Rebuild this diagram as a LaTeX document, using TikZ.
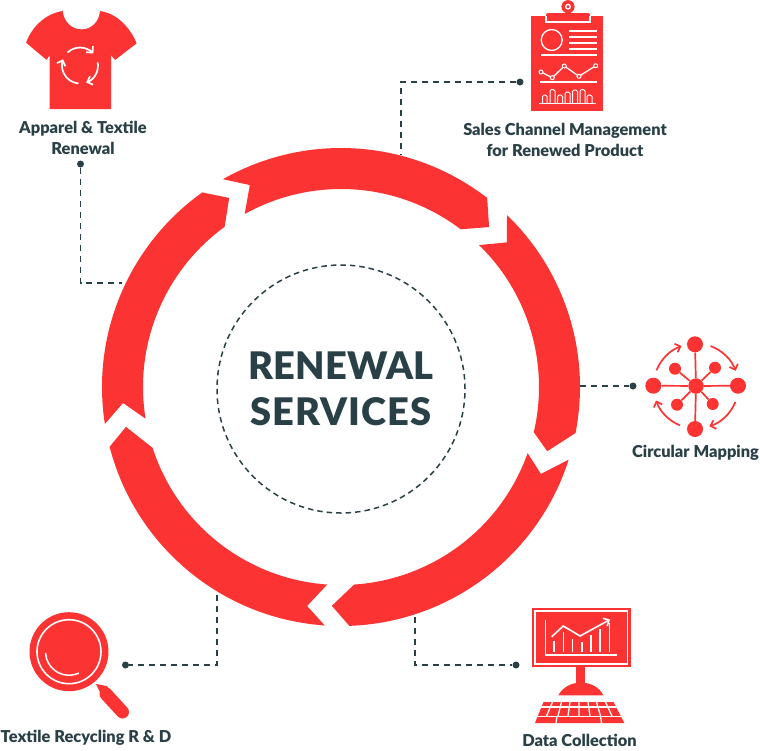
\documentclass[tikz,border=0pt]{standalone}
\usepackage{fontspec}
\setmainfont[BoldFont={Lato Black}]{Lato}
\newfontfamily\hubfont[LetterSpace=3, BoldFont={Lato Black}]{Lato}
\newfontfamily\hubtight[LetterSpace=0.5, BoldFont={Lato Black}]{Lato}
\usetikzlibrary{arrows.meta}
\definecolor{ringred}{HTML}{FB3333}
\definecolor{inkdark}{HTML}{2A4047}

\begin{document}
\begin{tikzpicture}[x=1pt, y=-1pt]
    \tikzset{label/.style = {inner sep=0, align=center, text=inkdark, font=\fontsize{16.4}{21}\selectfont\bfseries}}
    \tikzset{dot/.style = {shape=circle, fill=inkdark, inner sep=0, minimum size=7}}
    \tikzset{link/.style = {draw=inkdark, line width=1.8, dash pattern=on 6 off 5}}
    \tikzset{mapdot/.style = {shape=circle, fill=ringred, inner sep=0, minimum size=16}}
    \tikzset{mapdotsmall/.style = {shape=circle, fill=ringred, inner sep=0, minimum size=12}}
    \tikzset{cut/.style = {draw=white, line width=1.3}}
    \tikzset{mapedge/.style = {draw=ringred, line width=1.7}}
    \tikzset{barb/.style = {-{Straight Barb[length=4.5pt, width=9pt]}}}
    \useasboundingbox (0,0) rectangle (760,750);

    % ring of arrows
    \begin{scope}[shift={(341,387)}, y=1pt]
        \fill[ringred] (119.6:239) arc[start angle=119.6, end angle=52.3, radius=239] -- (47.2:218) -- (52.8:198) arc[start angle=52.8, end angle=119.1, radius=198] -- (114.3:221.6) -- cycle;
        \fill[ringred] (46:239) arc[start angle=46, end angle=-11.1, radius=239] -- (-17.3:216) -- (-13.2:198) arc[start angle=-13.2, end angle=45.8, radius=198] -- (41.1:220) -- cycle;
        \fill[ringred] (-17.7:239) arc[start angle=-17.7, end angle=-88, radius=239] -- (-92.4:219) -- (-86.2:198) arc[start angle=-86.2, end angle=-19.5, radius=198] -- (-23.5:218) -- cycle;
        \fill[ringred] (-93.9:239) arc[start angle=-93.9, end angle=-165.5, radius=239] -- (-169.5:218.7) -- (-162.1:198) arc[start angle=-162.1, end angle=-94, radius=198] -- (-98.8:221.6) -- cycle;
        \fill[ringred] (188.9:239) arc[start angle=188.9, end angle=125.5, radius=239] -- (120.6:219.7) -- (126:198) arc[start angle=126, end angle=189.2, radius=198] -- (184.2:218.6) -- cycle;
    \end{scope}

    % centre
    \node[shape=circle, draw=inkdark, line width=1.5, dash pattern=on 5.5 off 4, minimum size=248, inner sep=0, align=center, text=inkdark,
        font=\hubfont\fontsize{38}{46}\selectfont\bfseries] (hub) at (341,389) {{\hubtight RENEWAL}\\SERVICES};

    % labels
    \node[label] (apparel) at (83,137.5) {Apparel \& Textile\\Renewal};
    \node[label] (sales) at (565,140) {Sales Channel Management\\for Renewed Product};
    \node[label] (mapping) at (695.5,453) {Circular Mapping};
    \node[label] (data) at (579.5,740) {Data Collection};
    \node[label] (research) at (86,738) {Textile Recycling R \& D};

    % connectors
    \node[dot] (dotapparel) at (80.5,164) {};
    \node[dot] (dotsales) at (520,82) {};
    \node[dot] (dotmapping) at (633,386) {};
    \node[dot] (dotdata) at (516,665) {};
    \node[dot] (dotresearch) at (125.5,665) {};
    \coordinate (ringapparel) at (122,283);
    \coordinate (ringsales) at (401,155);
    \coordinate (ringmapping) at (580,386);
    \coordinate (ringdata) at (415,617);
    \coordinate (ringresearch) at (217,595);
    \draw[link] (dotapparel) |- (ringapparel);
    \draw[link] (dotsales) -| (ringsales);
    \draw[link] (ringmapping) -- (dotmapping);
    \draw[link] (ringdata) |- (dotdata);
    \draw[link] (ringresearch) |- (dotresearch);

    % shirt
    \fill[ringred, rounded corners=0.6] (62.7,11) .. controls (64,22) and (72,29.3) .. (81.7,29.3) .. controls (91,29.3) and (99,22) .. (100,11)
        .. controls (118,14) and (130,28) .. (136.7,43.3) -- (115,60) -- (111,55) -- (111,109) -- (49.5,109) -- (49.5,55) -- (46.7,60) -- (26,42.7)
        .. controls (32,27) and (45,14) .. (62.7,11) -- cycle;
    \draw[cut, line width=1.7, barb] ([shift={(226:18)}]80,65.5) arc[start angle=226, end angle=318, radius=18];
    \draw[cut, line width=1.7, barb] ([shift={(-10:18)}]80,65.5) arc[start angle=-10, end angle=70, radius=18];
    \draw[cut, line width=1.7, barb] ([shift={(95:18)}]80,65.5) arc[start angle=95, end angle=200, radius=18];

    % clipboard
    \fill[ringred] (531,16) rectangle (603.3,110.7);
    \fill[ringred, rounded corners=2] (546,13) rectangle (590,22);
    \fill[ringred] (568,6.7) circle[radius=6.6];
    \draw[cut] (568,6.7) circle[radius=2.3];
    \draw[cut] (546,16) -- (546,22) -- (590,22) -- (590,16);
    \draw[cut] (551.7,40) circle[radius=10.5];
    \draw[cut] (569.3,31) -- (596.7,31) (569.3,37) -- (596.7,37) (569.3,43) -- (596.7,43) (569.3,49) -- (596.7,49);
    \draw[cut] (541,55) -- (596.7,55) (540,82) -- (597.3,82) (539,103.3) -- (596,103.3);
    \draw[cut] (541,72) -- (552.3,77.7) -- (564.3,66) -- (579,76.3) -- (595.7,65.7);
    \filldraw[cut, line width=1, fill=ringred] (541,72) circle[radius=2] (552.3,77.7) circle[radius=2] (564.3,66) circle[radius=2] (579,76.3) circle[radius=2] (595.7,65.7) circle[radius=2];
    \draw[cut, line width=1, rounded corners=1.5] (542.5,103) -- (542.5,95) -- (547,95) -- (547,103) (550,103) -- (550,89.5) -- (555,89.5) -- (555,103)
        (557.5,103) -- (557.5,95) -- (562.5,95) -- (562.5,103) (565,103) -- (565,92) -- (570,92) -- (570,103) (572.5,103) -- (572.5,90) -- (577.5,90) -- (577.5,103)
        (580,103) -- (580,89.5) -- (585,89.5) -- (585,103) (587,103) -- (587,95) -- (592,95) -- (592,103);

    % mapping vertices
    \node[mapdot, minimum size=15.5] (mapcentre) at (696,386) {};
    \node[mapdot] (maptop) at (695,344.3) {};
    \node[mapdot] (mapbottom) at (695,429) {};
    \node[mapdot] (mapleft) at (653.3,385.7) {};
    \node[mapdot] (mapright) at (738,385.7) {};
    \node[mapdotsmall] (mapnw) at (675,368.7) {};
    \node[mapdotsmall] (mapne) at (715,367.7) {};
    \node[mapdotsmall] (mapsw) at (677,404.7) {};
    \node[mapdotsmall] (mapse) at (712.7,404) {};

    % mapping edges
    \draw[mapedge] (mapcentre) -- (maptop);
    \draw[mapedge] (mapcentre) -- (mapbottom);
    \draw[mapedge] (mapcentre) -- (mapleft);
    \draw[mapedge] (mapcentre) -- (mapright);
    \draw[mapedge] (mapcentre) -- (mapnw);
    \draw[mapedge] (mapcentre) -- (mapne);
    \draw[mapedge] (mapcentre) -- (mapsw);
    \draw[mapedge] (mapcentre) -- (mapse);
    \draw[mapedge, barb] ([shift={(201.6:42.5)}]696,386) arc[start angle=201.6, end angle=250, radius=42.5];
    \draw[mapedge, barb] ([shift={(290:42.5)}]696,386) arc[start angle=290, end angle=339, radius=42.5];
    \draw[mapedge, barb] ([shift={(22:42.5)}]696,386) arc[start angle=22, end angle=71.6, radius=42.5];
    \draw[mapedge, barb] ([shift={(112:42.5)}]696,386) arc[start angle=112, end angle=160, radius=42.5];

    % monitor
    \fill[ringred] (531.7,607.7) rectangle (630.7,667.3);
    \draw[cut] (535,610.9) rectangle (627.4,664);
    \draw[cut] (545.7,620) -- (545.7,655) -- (617.3,655);
    \draw[cut, line width=1.6] (554,652) -- (554,640.7) (563.3,652) -- (563.3,631.7) (572.3,652) -- (572.3,639) (581.7,652) -- (581.7,641.7) (590.7,652) -- (590.7,635) (600,652) -- (600,629.3) (609.3,652) -- (609.3,623.3);
    \draw[cut, line width=1.6, barb] (551.7,636.7) -- (563.3,626) -- (580,636) -- (610,619.5);
    \fill[ringred] (576,667) rectangle (585,684);
    \fill[ringred] (558.3,695.3) .. controls (563,687) and (571,682.7) .. (581,682.7) .. controls (591,682.7) and (599,687) .. (603.3,695.3) -- cycle;

    % keyboard
    \fill[ringred] (543.5,702) -- (613.5,702) -- (624.3,723) -- (535,723) -- cycle;
    \draw[cut, line width=1.6] (535,706.8) -- (625,706.8) (530,716.4) -- (630,716.4);
    \draw[cut] (552.5,702) -- (546.5,716) (561.5,702) -- (558,716) (570,702) -- (568,716) (579,702) -- (579,716) (588,702) -- (590,716) (596.5,702) -- (600.5,716) (605.5,702) -- (612,716);
    \draw[cut] (557,716) -- (556,723) (600.5,716) -- (601.5,723);

    % magnifier
    \fill[ringred] (96,684) -- (106.7,686) -- (112,692) -- (104,700) -- cycle;
    \draw[ringred, line width=13, line cap=round] (106,694) -- (122.5,712);
    \fill[ringred] (69,651.7) circle[radius=39.5];
    \draw[cut, line width=1.6] (69,651.7) circle[radius=32];
    \draw[cut, line width=1.5, line cap=round] ([shift={(66:23.5)}]69,651.7) arc[start angle=66, end angle=176, radius=23.5];
\end{tikzpicture}
\end{document}
